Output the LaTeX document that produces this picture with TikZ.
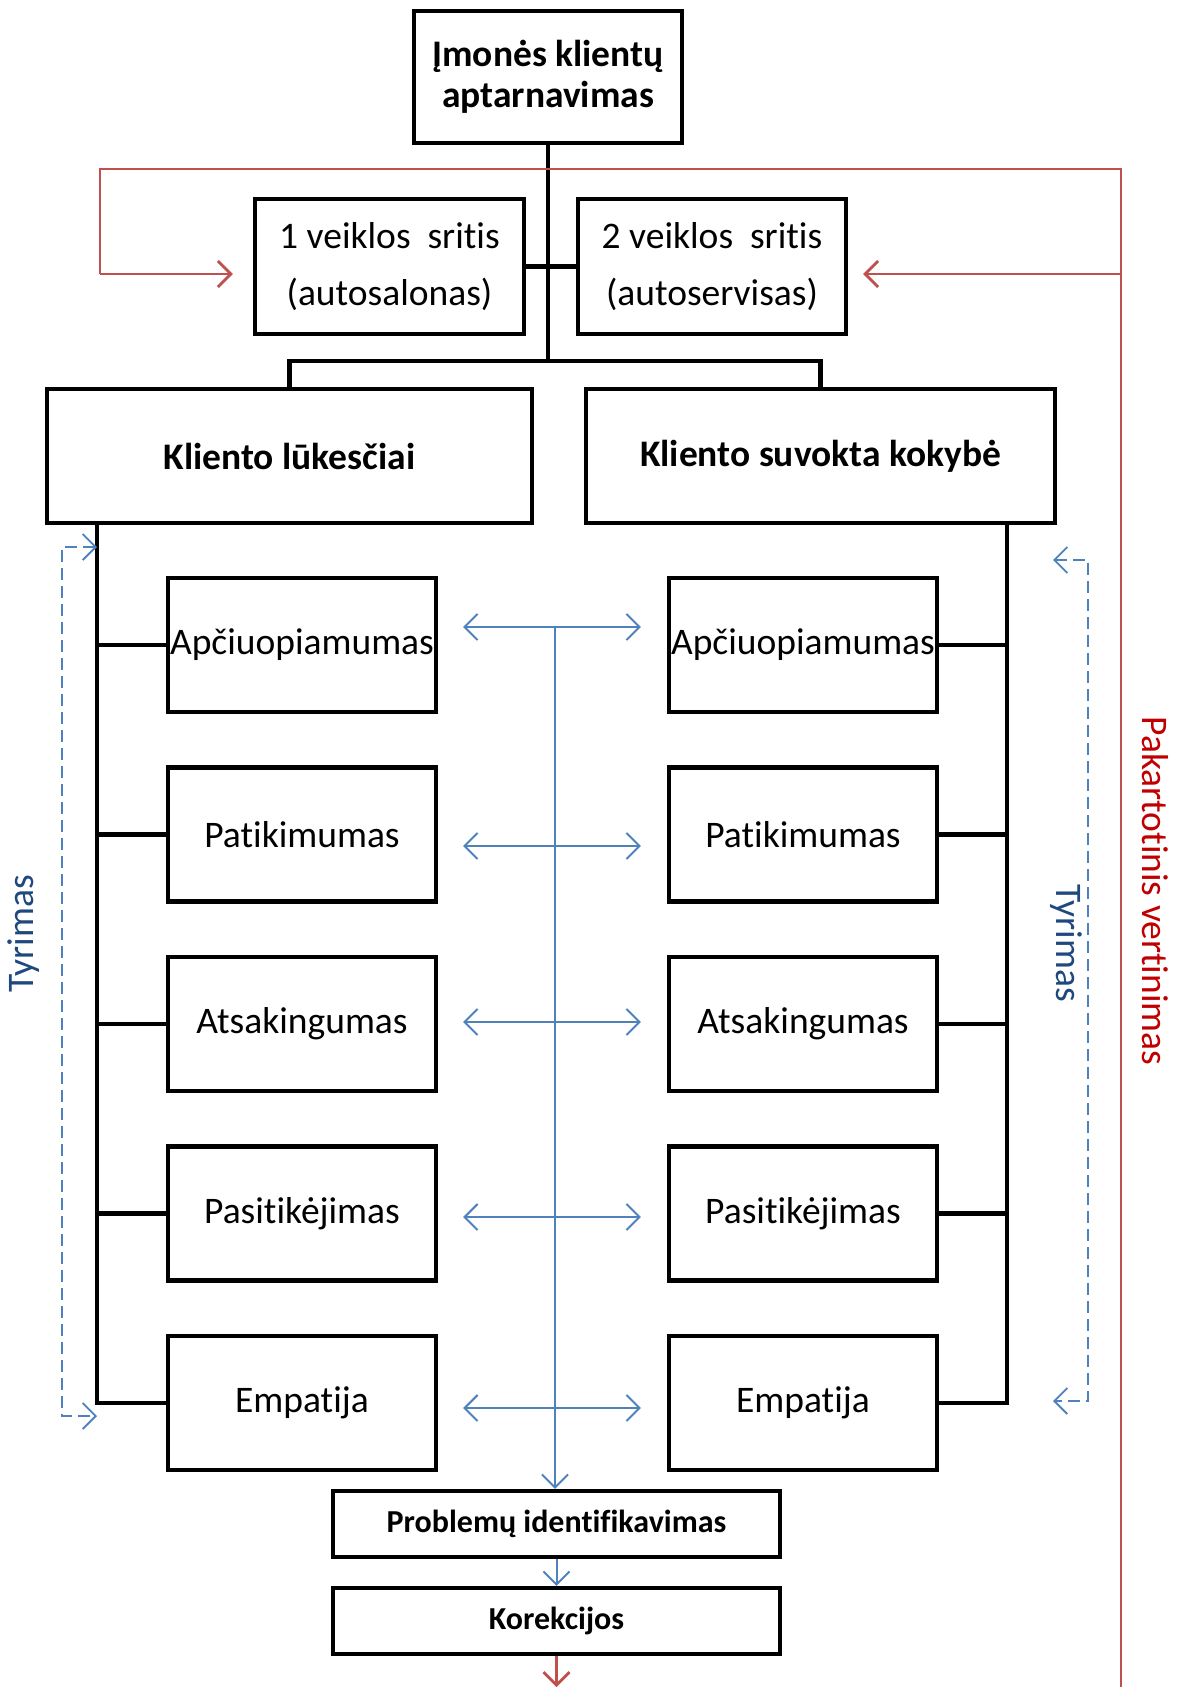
\documentclass[tikz,border=0pt]{standalone}
\usepackage{fontspec}
\setmainfont{Carlito}[Ligatures=NoCommon]
\usetikzlibrary{arrows.meta,calc}
\definecolor{accblue}{HTML}{4F81BD}
\definecolor{accred}{HTML}{C0504D}
\definecolor{darkblue}{HTML}{1F497D}
\definecolor{brightred}{HTML}{C00000}

\begin{document}
\begin{tikzpicture}[x=1pt,y=-1pt,
  box/.style={draw, line width=4.3pt, rectangle, inner sep=0pt, align=center,
    font=\fontsize{37.5}{41}\selectfont},
  boldbox/.style={box, font=\bfseries\fontsize{37.5}{41}\selectfont},
  itembox/.style={box, minimum width=268pt, minimum height=134pt},
  endbox/.style={box, minimum width=447pt, minimum height=66pt,
    font=\bfseries\fontsize{32}{34}\selectfont},
  conn/.style={line width=4.3pt},
  barb/.tip={Straight Barb[length=13pt,width=26pt]},
  bl/.style={draw=accblue, line width=2pt},
  bldash/.style={draw=accblue, line width=1.8pt, dash pattern=on 12pt off 6pt},
  redthin/.style={draw=accred, line width=1.5pt},
  redthick/.style={draw=accred, line width=2.8pt},
  sidetext/.style={font=\fontsize{37.5}{40}\selectfont, inner sep=0pt}
]
\useasboundingbox (0,0) rectangle (1185,1687);

% --- top of the hierarchy ---
\node[boldbox, minimum width=268pt, minimum height=132pt] (top) at (548,77)
  {Įmonės klientų\\aptarnavimas};
\node[box, minimum width=269pt, minimum height=135pt, font=\fontsize{37.5}{57}\selectfont]
  (s1) at (389.5,266.5) {1 veiklos\ \ sritis\\(autosalonas)};
\node[box, minimum width=268pt, minimum height=135pt, font=\fontsize{37.5}{57}\selectfont]
  (s2) at (712,266.5) {2 veiklos\ \ sritis\\(autoservisas)};
\node[boldbox, minimum width=485pt, minimum height=134pt] (kl) at (289.5,456)
  {Kliento lūkesčiai};
\node[boldbox, minimum width=469pt, minimum height=134pt] (ks) at (820.5,456)
  {Kliento suvokta kokybė};

% --- quality dimensions, both columns ---
\foreach \i/\y/\t in {1/645/Apčiuopiamumas, 2/834.5/Patikimumas, 3/1024/Atsakingumas,
                      4/1213.5/Pasitikėjimas, 5/1403/Empatija}{
  \node[itembox] (L\i) at (302,\y) {\t};
  \node[itembox] (R\i) at (803,\y) {\t};
}

% --- outcome boxes ---
\node[endbox] (prob) at (556.5,1524) {Problemų identifikavimas};
\node[endbox] (kor) at (556.5,1621) {Korekcijos};

% --- black tree connectors ---
\coordinate (bar) at (548,361);
\coordinate (lsp) at (97,0);
\coordinate (rsp) at (1007,0);
\draw[conn] (top.south) -- (top.south |- bar);
\draw[conn] (s1.east) -- (s2.west);
\draw[conn, line join=miter] (kl.north) -- (kl.north |- bar) -- (ks.north |- bar) -- (ks.north);
\draw[conn, line join=miter] (kl.south -| lsp) |- (L5.west);
\draw[conn, line join=miter] (ks.south -| rsp) |- (R5.east);
\foreach \i in {1,...,4}{
  \draw[conn] (lsp |- L\i.west) -- (L\i.west);
  \draw[conn] (rsp |- R\i.east) -- (R\i.east);
}

% --- blue comparison arrows ---
\foreach \i/\y in {1/627, 2/846, 3/1022, 4/1217, 5/1408}{
  \coordinate (a\i) at (555,\y);
  \draw[bl, {barb}-{barb}, shorten <=25pt, shorten >=26pt] (a\i -| L\i.east) -- (a\i -| R\i.west);
}
\draw[bl, -{barb}] (a1) -- (a1 |- prob.north);
\draw[bl, -{barb}] (prob.south) -- (kor.north);

% --- dashed research brackets ---
\coordinate (dl1) at (62,547);
\coordinate (dl2) at (62,1416);
\draw[bldash, {barb}-{barb}] (dl1 -| lsp) -- (dl1) -- (dl2) -- (dl2 -| lsp);
\coordinate (dr1) at (1088,560);
\coordinate (dr2) at (1088,1401);
\coordinate (drt) at (1053,0);
\draw[bldash, {barb}-{barb}] (dr1 -| drt) -- (dr1) -- (dr2) -- (dr2 -| drt);

\node[sidetext, rotate=90, text=darkblue] (tyl) at (24,934) {Tyrimas};
\node[sidetext, rotate=-90, text=darkblue] (tyr) at (1066,943) {Tyrimas};

% --- red feedback loop ---
\coordinate (rtop) at (1121,169);
\coordinate (rleft) at (100,169);
\coordinate (rbot) at (1121,1687);
\coordinate (r1) at (100,274);
\coordinate (r2) at (1121,274);
\draw[redthin, line join=miter] (rbot) -- (rtop) -- (rleft) -- (r1);
\draw[redthick, -{barb}, shorten >=20pt] (r1) -- (r1 -| s1.west);
\draw[redthick, -{barb}, shorten >=15pt] (r2) -- (r2 -| s2.east);
\draw[redthick, -{barb}] (kor.south) -- (kor.south |- rbot);

\node[sidetext, rotate=-90, text=brightred] (pak) at (1155,891) {Pakartotinis vertinimas};
\end{tikzpicture}
\end{document}
